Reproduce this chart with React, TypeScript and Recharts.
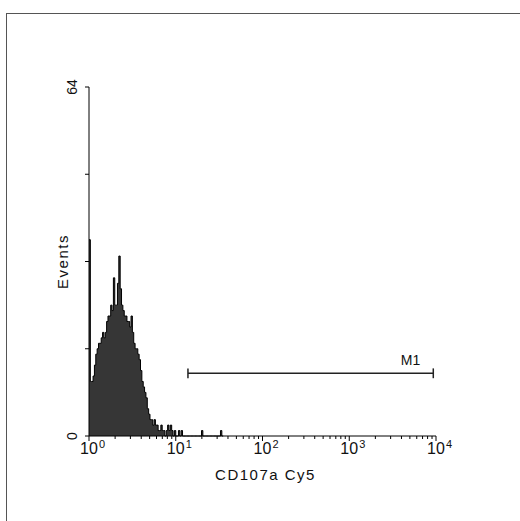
import { ComposedChart, Area, XAxis, YAxis, ReferenceLine, ReferenceDot } from "recharts";

// histogram counts per channel (256 channels over 4 decades), channels past the list are empty
const counts = [
  36, 10, 10, 11, 13, 15, 16, 17, 17, 18, 19, 18, 19, 21, 22, 22,
  24, 23, 29, 24, 24, 28, 33, 27, 24, 23, 22, 22, 21, 21, 20, 22,
  19, 17, 16, 16, 15, 14, 12, 10, 9, 8, 7, 5, 4, 3, 3, 2,
  3, 2, 2, 1, 1, 2, 1, 1, 0, 1, 2, 1, 2, 1, 0, 1,
  0, 0, 1, 0, 1, 0, 0, 0, 0, 0, 0, 0, 0, 0, 0, 0,
  0, 0, 0, 1, 0, 0, 0, 0, 0, 0, 0, 0, 0, 0, 0, 0,
  0, 1, 0, 0,
];
const decadeExponents = ["0", "1", "2", "3", "4"];
const yTicks = [0, 16, 32, 48, 64];
const yLabelTicks = [0, 64];

// marker M1 (channels) and the count level it is drawn at
const gateName = "M1";
const gateStart = 73;
const gateEnd = 254;
const gateLevel = 11.5;

const CHANNELS = 256;
const PER_DECADE = CHANNELS / 4;
const FONT = "'Liberation Sans', Arial, sans-serif";
const INK = "#111";

const chartData = counts.map((c, i) => ({ channel: i, count: c }));

// major ticks at decades, minor ticks at 2..9 within each decade
const xTicks: number[] = [];
for (let d = 0; d < 4; d++) {
  xTicks.push(d * PER_DECADE);
  for (let k = 2; k <= 9; k++) xTicks.push(d * PER_DECADE + PER_DECADE * Math.log10(k));
}
xTicks.push(CHANNELS);

const XTick = ({ x, y, payload }: any) => {
  const v = payload.value;
  const idx = Math.round(v / PER_DECADE);
  const major = Math.abs(v - idx * PER_DECADE) < 0.001;
  return (
    <g>
      <line x1={x} y1={y} x2={x} y2={y + (major ? 5 : 3)} stroke="#000" />
      {major && (
        <>
          <text x={x} y={y + 18} textAnchor="middle" fontSize={16} fontFamily={FONT} fill={INK}>
            10
          </text>
          <text x={x + 10} y={y + 12} fontSize={11} fontFamily={FONT} fill={INK}>
            {decadeExponents[idx]}
          </text>
        </>
      )}
    </g>
  );
};

const YTick = ({ x, y, payload }: any) => {
  const v = payload.value;
  const cx = x - 17;
  return (
    <g>
      <line x1={x} y1={y} x2={x - 4} y2={y} stroke="#000" />
      {yLabelTicks.includes(v) && (
        <text
          x={cx}
          y={y}
          transform={`rotate(-90 ${cx} ${y})`}
          textAnchor="middle"
          dominantBaseline="central"
          fontSize={14}
          fontFamily={FONT}
          fill={INK}
        >
          {v}
        </text>
      )}
    </g>
  );
};

export default function App() {
  return (
    <div style={{ position: "absolute", left: 0, top: 0, width: 520, height: 521, background: "#fff", overflow: "hidden" }}>
      <div
        style={{
          position: "absolute",
          left: 6,
          top: 13,
          width: 520,
          height: 520,
          borderLeft: "1px solid #555",
          borderTop: "1px solid #555",
        }}
      />
      <div style={{ position: "absolute", left: 0, top: 0 }}>
        <ComposedChart width={520} height={521} data={chartData} margin={{ top: 87, right: 84, left: 49, bottom: 45 }}>
          <XAxis
            dataKey="channel"
            type="number"
            domain={[0, CHANNELS]}
            ticks={xTicks}
            interval={0}
            height={40}
            tickSize={0}
            tickMargin={0}
            tickLine={false}
            tick={<XTick />}
            axisLine={{ stroke: "#000" }}
            label={{
              content: ({ viewBox }: any) => (
                <text
                  x={viewBox.x + viewBox.width / 2 + 3}
                  y={viewBox.y + 44}
                  textAnchor="middle"
                  fontSize={15}
                  letterSpacing={1.5}
                  fontFamily={FONT}
                  fill={INK}
                >
                  CD107a Cy5
                </text>
              ),
            }}
          />
          <YAxis
            type="number"
            domain={[0, 64]}
            ticks={yTicks}
            interval={0}
            width={40}
            tickSize={0}
            tickMargin={0}
            tickLine={false}
            tick={<YTick />}
            axisLine={{ stroke: "#000" }}
            label={{
              content: ({ viewBox }: any) => {
                const cx = viewBox.x + 13;
                const cy = viewBox.y + viewBox.height / 2;
                return (
                  <text
                    x={cx}
                    y={cy}
                    transform={`rotate(-90 ${cx} ${cy})`}
                    textAnchor="middle"
                    dominantBaseline="central"
                    fontSize={15}
                    letterSpacing={1.5}
                    fontFamily={FONT}
                    fill={INK}
                  >
                    Events
                  </text>
                );
              },
            }}
          />
          <Area
            type="stepAfter"
            dataKey="count"
            fill="#363636"
            fillOpacity={1}
            stroke="#000"
            strokeWidth={1}
            isAnimationActive={false}
            dot={false}
            activeDot={false}
          />
          <ReferenceLine
            segment={[{ x: gateStart, y: gateLevel }, { x: gateEnd, y: gateLevel }]}
            stroke="#222"
            strokeWidth={1.5}
          />
          <ReferenceLine
            segment={[{ x: gateStart, y: gateLevel - 0.9 }, { x: gateStart, y: gateLevel + 0.9 }]}
            stroke="#222"
            strokeWidth={1.5}
          />
          <ReferenceLine
            segment={[{ x: gateEnd, y: gateLevel - 0.9 }, { x: gateEnd, y: gateLevel + 0.9 }]}
            stroke="#222"
            strokeWidth={1.5}
          />
          <ReferenceDot
            x={gateEnd}
            y={gateLevel}
            r={0}
            fill="none"
            stroke="none"
            label={{
              content: ({ viewBox }: any) => (
                <text
                  x={viewBox.x + viewBox.width / 2 - 13}
                  y={viewBox.y + viewBox.height / 2 - 8}
                  textAnchor="end"
                  fontSize={14}
                  fontFamily={FONT}
                  fill={INK}
                >
                  {gateName}
                </text>
              ),
            }}
          />
        </ComposedChart>
      </div>
    </div>
  );
}
